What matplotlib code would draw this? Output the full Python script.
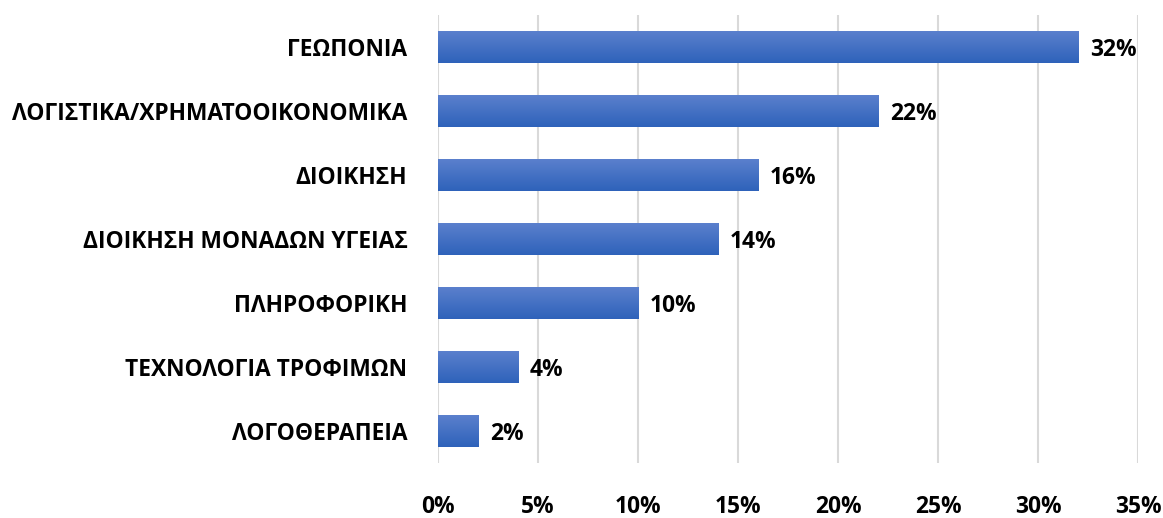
import matplotlib.pyplot as plt
import numpy as np
from matplotlib.colors import LinearSegmentedColormap
from matplotlib.ticker import MultipleLocator, FuncFormatter

categories = [
    'ΓΕΩΠΟΝΙΑ',
    'ΛΟΓΙΣΤΙΚΑ/ΧΡΗΜΑΤΟΟΙΚΟΝΟΜΙΚΑ',
    'ΔΙΟΙΚΗΣΗ',
    'ΔΙΟΙΚΗΣΗ ΜΟΝΑΔΩΝ ΥΓΕΙΑΣ',
    'ΠΛΗΡΟΦΟΡΙΚΗ',
    'ΤΕΧΝΟΛΟΓΙΑ ΤΡΟΦΙΜΩΝ',
    'ΛΟΓΟΘΕΡΑΠΕΙΑ',
]
values = [32, 22, 16, 14, 10, 4, 2]

plt.rcParams['font.family'] = ['Open Sans', 'DejaVu Sans']
FS = 16.4

fig = plt.figure(figsize=(11.63, 5.18), dpi=100)
ax = fig.add_axes([0.3766, 0.1062, 0.6019, 0.8648])

y = np.arange(len(categories))
bars = ax.barh(y, values, height=0.5, color='#4472C4', zorder=2)

# vertical gradient inside each bar, light on top, darker at bottom
grad_cmap = LinearSegmentedColormap.from_list('bar', ['#2E62BA', '#5B80CD'])
grad = np.linspace(0, 1, 256).reshape(-1, 1)
for b in bars:
    x0, y0 = b.get_x(), b.get_y()
    w, h = b.get_width(), b.get_height()
    im = ax.imshow(grad, cmap=grad_cmap, aspect='auto', origin='upper',
                   extent=[x0, x0 + w, y0, y0 + h], zorder=3)
    im.set_clip_path(b)

for yi, v in zip(y, values):
    ax.text(v + 0.6, yi, f'{v}%', va='center_baseline', ha='left',
            fontsize=FS, fontweight='bold', color='black', zorder=4)

ax.set_xlim(0, 35)
ax.set_ylim(len(categories) - 0.5, -0.5)
ax.xaxis.set_major_locator(MultipleLocator(5))
ax.xaxis.set_major_formatter(FuncFormatter(lambda v, p: f'{v:.0f}%'))
ax.set_yticks(y)
ax.set_yticklabels(categories)

ax.grid(axis='x', color='#D9D9D9', linewidth=1.5, zorder=0)
ax.set_axisbelow(True)
for s in ax.spines.values():
    s.set_visible(False)
ax.tick_params(axis='both', length=0)
ax.tick_params(axis='x', pad=23, labelsize=FS)
ax.tick_params(axis='y', pad=22, labelsize=FS)
for lbl in ax.get_xticklabels() + ax.get_yticklabels():
    lbl.set_fontweight('bold')

fig.savefig('out.png', dpi=100)
